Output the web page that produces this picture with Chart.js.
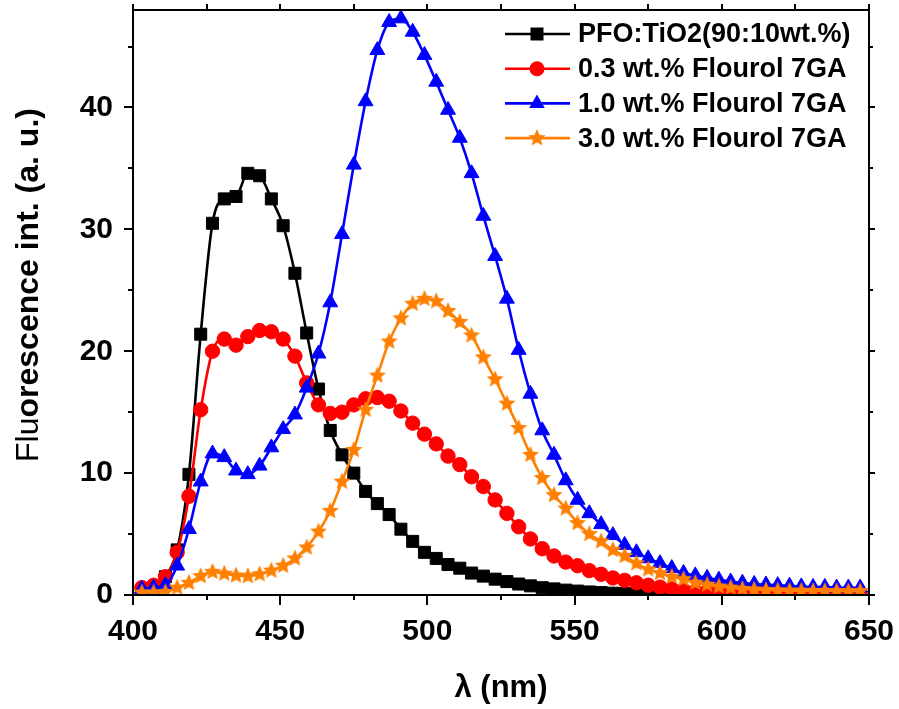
<!DOCTYPE html>
<html><head><meta charset="utf-8">
<script src="https://cdn.jsdelivr.net/npm/chart.js@4.4.1/dist/chart.umd.min.js"></script>
<style>html,body{margin:0;padding:0;background:#fff;}canvas{display:block;}</style>
</head><body>
<canvas id="c" width="899" height="709"></canvas>
<script>
// ---- data ----
const wavelengths = [403,407,411,415,419,423,427,431,435,439,443,447,451,455,459,463,467,471,475,479,483,487,491,495,499,503,507,511,515,519,523,527,531,535,539,543,547,551,555,559,563,567,571,575,579,583,587,591,595,599,603,607,611,615,619,623,627,631,635,639,643,647];
const pfoTiO2 = [0.4,0.6,1.5,3.7,9.9,21.4,30.5,32.5,32.7,34.6,34.4,32.5,30.3,26.4,21.5,16.9,13.5,11.5,10.0,8.5,7.5,6.6,5.4,4.4,3.5,3.0,2.5,2.2,1.8,1.55,1.3,1.1,0.9,0.75,0.6,0.5,0.4,0.32,0.25,0.2,0.15,0.12,0.1,0.08,0.07,0.06,0.05,0.05,0.05,0.04,0.04,0.04,0.04,0.04,0.04,0.04,0.04,0.04,0.04,0.04,0.04,0.04];
const flourol03 = [0.6,0.8,1.5,3.5,8.1,15.2,20.0,21.0,20.5,21.2,21.7,21.6,21.0,19.6,17.4,15.6,14.9,15.0,15.6,16.1,16.2,15.9,15.1,14.1,13.2,12.4,11.4,10.7,9.7,8.9,7.8,6.7,5.6,4.6,3.8,3.2,2.7,2.4,2.0,1.7,1.4,1.2,1.0,0.8,0.65,0.5,0.4,0.32,0.27,0.23,0.2,0.18,0.17,0.16,0.15,0.15,0.15,0.15,0.15,0.15,0.15,0.15];
const flourol10 = [0.5,0.6,0.8,2.4,5.4,9.3,11.6,11.3,10.2,9.9,10.6,12.1,13.6,14.8,17.0,19.8,24.0,29.6,35.3,40.5,44.7,47.0,47.3,46.2,44.3,42.1,39.8,37.5,34.6,31.1,27.8,24.3,20.1,16.5,13.5,11.5,9.4,7.8,6.7,5.8,4.9,4.1,3.5,3.0,2.6,2.2,1.8,1.6,1.4,1.25,1.1,1.0,0.9,0.85,0.8,0.75,0.7,0.65,0.65,0.6,0.6,0.6];
const flourol30 = [0.2,0.2,0.25,0.6,1.0,1.55,1.9,1.75,1.6,1.55,1.7,2.0,2.4,3.0,3.9,5.2,6.9,9.3,11.9,15.2,18.0,20.8,22.7,23.9,24.3,24.1,23.3,22.4,21.3,19.5,17.7,15.7,13.7,11.5,9.6,8.2,7.1,5.9,5.0,4.4,3.7,3.2,2.6,2.1,1.8,1.5,1.3,1.0,0.85,0.7,0.6,0.5,0.45,0.4,0.38,0.35,0.35,0.33,0.33,0.32,0.32,0.32];
const seriesLabels = ['PFO:TiO2(90:10wt.%)','0.3 wt.% Flourol 7GA','1.0 wt.% Flourol 7GA','3.0 wt.% Flourol 7GA'];
const xMajorTicks = [400,450,500,550,600,650];
const xMinorTicks = [425,475,525,575,625];
const yMajorTicks = [0,10,20,30,40];
const yMinorTicks = [5,15,25,35,45];
const xTitle = 'λ (nm)';
const yTitleRegular = 'Flu';
const yTitleBold = 'orescence int. (a. u.)';

// ---- styles ----
const FONT = '"Liberation Sans", Arial, sans-serif';
const colors = ['#000000','#ff0000','#0000ff','#ff8000'];

function makeStar(color, R) {
  const s = Math.ceil(R * 2) + 2;
  const c = document.createElement('canvas');
  c.width = s; c.height = s;
  const g = c.getContext('2d');
  g.fillStyle = color;
  g.beginPath();
  for (let i = 0; i < 10; i++) {
    const r = i % 2 ? R * 0.46 : R;
    const a = -Math.PI / 2 + i * Math.PI / 5;
    const px = s / 2 + r * Math.cos(a), py = s / 2 + r * Math.sin(a);
    if (i) g.lineTo(px, py); else g.moveTo(px, py);
  }
  g.closePath();
  g.fill();
  return c;
}
const starImg = makeStar(colors[3], 9);
const pointStyles = ['rect','circle','triangle',starImg];
const pointRadii = [8.5,7.2,8.6,9];
const seriesValues = [pfoTiO2, flourol03, flourol10, flourol30];

const datasets = seriesValues.map((vals, i) => ({
  label: seriesLabels[i],
  data: wavelengths.map((x, j) => ({x: x, y: vals[j]})),
  borderColor: colors[i],
  backgroundColor: colors[i],
  pointBackgroundColor: colors[i],
  pointBorderColor: colors[i],
  borderWidth: 2.6,
  pointBorderWidth: 1,
  pointStyle: pointStyles[i],
  pointRadius: pointRadii[i],
  cubicInterpolationMode: 'monotone',
  order: 4 - i
}));

const framePlugin = {
  id: 'frame',
  afterDraw(chart) {
    const ctx = chart.ctx;
    const a = chart.chartArea;
    const xs = chart.scales.x, ys = chart.scales.y;
    ctx.save();
    ctx.strokeStyle = '#000';
    ctx.lineWidth = 2;
    ctx.strokeRect(a.left, a.top, a.right - a.left, a.bottom - a.top);
    ctx.beginPath();
    const tickX = (v, len, top) => {
      const px = Math.round(xs.getPixelForValue(v));
      if (top) { ctx.moveTo(px, a.top); ctx.lineTo(px, a.top - len); }
      else { ctx.moveTo(px, a.bottom); ctx.lineTo(px, a.bottom + len); }
    };
    const tickY = (v, len, right) => {
      const py = Math.round(ys.getPixelForValue(v));
      if (right) { ctx.moveTo(a.right, py); ctx.lineTo(a.right + len, py); }
      else { ctx.moveTo(a.left, py); ctx.lineTo(a.left - len, py); }
    };
    xMajorTicks.forEach(v => { tickX(v, 10, false); tickX(v, 6, true); });
    xMinorTicks.forEach(v => { tickX(v, 5, false); tickX(v, 6, true); });
    yMajorTicks.forEach(v => { tickY(v, 9, false); tickY(v, 6, true); });
    yMinorTicks.forEach(v => { tickY(v, 5, false); tickY(v, 4, true); });
    ctx.stroke();

    // y-axis title (mixed weights)
    ctx.translate(29, 285);
    ctx.rotate(-Math.PI / 2);
    ctx.fillStyle = '#000';
    ctx.textBaseline = 'middle';
    ctx.textAlign = 'left';
    const fReg = '32px ' + FONT, fBold = 'bold 32px ' + FONT;
    ctx.font = fReg; const w1 = ctx.measureText(yTitleRegular).width;
    ctx.font = fBold; const w2 = ctx.measureText(yTitleBold).width;
    const x0 = -(w1 + w2) / 2;
    ctx.font = fReg; ctx.fillText(yTitleRegular, x0, 0);
    ctx.font = fBold; ctx.fillText(yTitleBold, x0 + w1, 0);
    ctx.restore();

    // legend
    ctx.save();
    for (let i = 0; i < 4; i++) {
      const y = 34 + i * 34.7;
      ctx.strokeStyle = colors[i];
      ctx.fillStyle = colors[i];
      ctx.lineWidth = 2.6;
      ctx.beginPath(); ctx.moveTo(505, y); ctx.lineTo(570, y); ctx.stroke();
      const mx = 537;
      ctx.beginPath();
      if (i === 0) { ctx.rect(mx - 6.5, y - 6.5, 13, 13); ctx.fill(); }
      else if (i === 1) { ctx.arc(mx, y, 7.5, 0, Math.PI * 2); ctx.fill(); }
      else if (i === 2) { const r = 9; ctx.moveTo(mx, y - r); ctx.lineTo(mx + r * 0.866, y + r / 2); ctx.lineTo(mx - r * 0.866, y + r / 2); ctx.closePath(); ctx.fill(); }
      else { ctx.drawImage(starImg, mx - starImg.width / 2, y - starImg.height / 2); }
      ctx.fillStyle = '#000';
      ctx.font = 'bold 27px ' + FONT;
      ctx.textBaseline = 'middle';
      ctx.textAlign = 'left';
      ctx.fillText(seriesLabels[i], 578, y + 1);
    }
    ctx.restore();
  }
};

new Chart(document.getElementById('c'), {
  type: 'line',
  data: { datasets: datasets },
  plugins: [framePlugin],
  options: {
    responsive: false,
    animation: false,
    devicePixelRatio: 1,
    layout: { padding: { top: 6, right: 30, left: 0, bottom: 0 } },
    plugins: { legend: { display: false }, tooltip: { enabled: false } },
    scales: {
      x: {
        type: 'linear', min: 400, max: 650,
        grid: { display: false, drawTicks: false },
        border: { display: false },
        ticks: { stepSize: 50, color: '#000', font: { family: FONT, size: 30, weight: 'bold' }, padding: 19, maxRotation: 0 },
        afterBuildTicks: s => { s.ticks = xMajorTicks.map(v => ({value: v})); },
        title: { display: true, text: xTitle, color: '#000', font: { family: FONT, size: 31, weight: 'bold' }, padding: { top: 0, bottom: 2 } },
        afterFit: s => { s.height = 114; s.paddingLeft = 0; s.paddingRight = 0; }
      },
      y: {
        type: 'linear', min: 0, max: 48,
        grid: { display: false, drawTicks: false },
        border: { display: false },
        ticks: { stepSize: 10, color: '#000', font: { family: FONT, size: 30, weight: 'bold' }, padding: 20 },
        afterBuildTicks: s => { s.ticks = yMajorTicks.map(v => ({value: v})); },
        afterFit: s => { s.width = 133; s.paddingTop = 0; s.paddingBottom = 0; }
      }
    }
  }
});
</script>
</body></html>
